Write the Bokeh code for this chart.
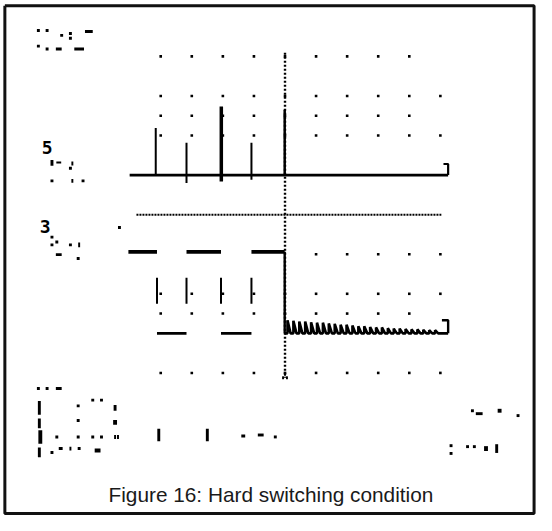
from bokeh.plotting import figure
from bokeh.models import Label, Range1d
from bokeh.embed import file_html
from bokeh.resources import INLINE
from bokeh.core.properties import value

# ---------------- data (screen divisions of the scope) ----------------
# graticule dots: rows (divisions) and the column span shown on each row
grid_rows = [4, 3, 2.5, 2, -1, -2, -2.5, -4]
grid_first_col = [1, 1, 1, 1, 6, 1, 1, 1]
grid_last_col = [9, 10, 9, 10, 10, 10, 9, 10]

# trace 1 (top): baseline level and switching spikes
t1_level = 1.0
t1_start, t1_end = 0.0, 10.25
spike_t = [0.84, 1.83, 2.95, 3.92, 4.99]
spike_top = [2.19, 1.82, 2.73, 1.82, 2.65]
spike_bottom = [1.0, 0.80, 0.84, 0.88, 1.0]
spike_width = [2, 2, 3.5, 2, 2.5]

# trace 2 (bottom): square wave with edges, then ringing at the low level
t2_high, t2_low = -0.94, -3.0
t2_start, t2_end = -0.04, 10.25
t2_edges = [0.88, 1.83, 2.94, 3.92, 4.99]
ring_t = [5.08, 5.27, 5.46, 5.65, 5.84, 6.03, 6.22, 6.41, 6.60, 6.79,
          6.98, 7.17, 7.36, 7.55, 7.74, 7.93, 8.12, 8.31, 8.50, 8.69,
          8.88, 9.07, 9.26, 9.45, 9.64, 9.83]
ring_amp = [0.33, 0.32, 0.30, 0.30, 0.28, 0.27, 0.27, 0.25, 0.24, 0.22,
            0.22, 0.20, 0.18, 0.18, 0.16, 0.15, 0.15, 0.13, 0.12, 0.12,
            0.11, 0.10, 0.10, 0.09, 0.08, 0.08]

caption = "Figure 16: Hard switching condition"

# ---------------- geometry ----------------
W, H = 536, 515                 # figure size (fits the window with the 8px margin)
REF_W, REF_H = 552.0, 531.0     # reference picture size the layout is measured in
SCALE = W / REF_W
X0_PX, XDIV_PX = 133.0, 32.0    # scope origin / division size in reference pixels
Y0_PX, YDIV_PX = 220.8, 40.8


def px_to_x(px):
    return (px - X0_PX) / XDIV_PX


def py_to_y(py):
    return (Y0_PX - py) / YDIV_PX


p = figure(width=W, height=H, output_backend="svg", toolbar_location=None,
           x_axis_type=None, y_axis_type=None, min_border=0,
           x_range=Range1d(px_to_x(0), px_to_x(REF_W)),
           y_range=Range1d(py_to_y(REF_H), py_to_y(0)))
p.grid.visible = False
p.background_fill_color = "white"
p.border_fill_color = "white"
p.outline_line_color = None

INK = "#000000"

# outer frame box
bx0, bx1 = px_to_x(4.5), px_to_x(549.5)
by0, by1 = py_to_y(5.5), py_to_y(529)
p.line([bx0, bx1, bx1, bx0, bx0], [by0, by0, by1, by1, by0],
       line_color="#111111", line_width=3)

# graticule dots
gx, gy = [], []
for r, c0, c1 in zip(grid_rows, grid_first_col, grid_last_col):
    for c in range(c0, c1 + 1):
        gx.append(c)
        gy.append(r)
p.rect(gx, gy, width=2.6, height=2.6, width_units="screen", height_units="screen",
       fill_color=INK, line_color=None)

# centre cross (dotted)
p.line([5, 5], [py_to_y(54), py_to_y(389)], line_color=INK, line_width=2.4,
       line_dash="2 2")
p.line([px_to_x(140), px_to_x(454)], [0, 0], line_color=INK, line_width=2,
       line_dash="2 1")

# ---------------- trace 1 ----------------
p.line([t1_start, t1_end], [t1_level, t1_level], line_color=INK, line_width=2.6)
p.segment(x0=spike_t, y0=spike_bottom, x1=spike_t, y1=spike_top,
          line_color=INK, line_width=spike_width)
# right end level marker
p.line([t1_end, t1_end, t1_end - 0.15], [t1_level, t1_level + 0.28, t1_level + 0.28],
       line_color=INK, line_width=2.2)

# ---------------- trace 2 ----------------
levels_x0 = [t2_start] + t2_edges[:-1]
levels_x1 = t2_edges
levels_y = [t2_high if i % 2 == 0 else t2_low for i in range(len(t2_edges))]
p.segment(x0=levels_x0, y0=levels_y, x1=levels_x1, y1=levels_y,
          line_color=INK, line_width=[3.6 if y == t2_high else 2.8 for y in levels_y])
# intermediate edges (faint on the scope: only partly drawn)
p.segment(x0=t2_edges[:-1], y0=[t2_high] * 4, x1=t2_edges[:-1], y1=[t2_low] * 4,
          line_color=INK, line_width=2, line_dash="0 26 26 100")
# final turn-off edge
p.line([t2_edges[-1], t2_edges[-1]], [t2_high, t2_low], line_color=INK, line_width=2.4)
# ringing after turn-off
rx, ry = [t2_edges[-1]], [t2_low]
for t, a in zip(ring_t, ring_amp):
    rx += [t, t, t + 0.1]
    ry += [t2_low, t2_low + a, t2_low]
rx.append(t2_end)
ry.append(t2_low)
p.line(rx, ry, line_color=INK, line_width=2.6)
p.line([t2_end, t2_end, t2_end - 0.2], [t2_low, t2_low + 0.33, t2_low + 0.33],
       line_color=INK, line_width=2.4)

# ---------------- degraded readout fragments (unreadable) ----------------
frag = [
    (39, 31, 3, 3), (48, 31, 3, 3), (63, 36, 3, 3), (72, 34, 3, 3), (72, 39, 3, 3),
    (91, 32, 8, 3), (39, 47, 3, 3), (48, 50, 3, 3), (60, 50, 6, 3), (81, 50, 10, 3),
    (53, 166, 3, 3), (53, 169, 3, 3), (60, 167, 5, 2), (74, 168, 2, 4), (72, 173, 3, 3),
    (53, 186, 3, 3), (74, 186, 2, 4), (85, 186, 3, 3),
    (53, 244, 3, 3), (58, 249, 3, 3), (53, 252, 3, 3), (72, 252, 3, 3), (81, 252, 2, 5),
    (60, 262, 6, 3), (80, 266, 3, 3), (122.5, 234, 3, 3),
    (39, 400, 3, 3), (48, 400, 3, 3), (60, 400, 6, 3),
    (40, 420, 3, 14), (40, 436, 3, 10), (41, 450, 4, 14), (40, 466, 3, 10),
    (80, 418, 3, 3), (95, 412, 3, 3), (104, 412, 3, 3), (118, 420, 3, 6), (80, 433, 3, 3),
    (118, 435, 4, 5), (58, 450, 3, 3), (80, 450, 3, 3), (95, 450, 3, 3), (104, 450, 3, 3),
    (118, 450, 2, 4), (121, 450, 2, 4), (53, 466, 3, 3), (62, 462, 4, 3), (72, 462, 2, 4),
    (81, 462, 3, 3), (100, 464, 6, 4),
    (163, 448, 3, 13), (213, 448, 3, 13), (250, 449, 4, 3), (268, 448, 6, 3), (283, 450, 3, 3),
    (486, 423, 3, 3), (493, 426, 7, 3), (514, 423, 4, 4), (533, 428, 3, 3),
    (464, 459, 3, 3), (464, 467, 3, 3), (481, 460, 3, 3), (488, 460, 3, 3),
    (500, 462, 4, 5), (511, 462, 3, 9),
    (291, 389, 2, 3), (295, 389, 2, 3), (293, 386, 2, 2),
]
p.rect([px_to_x(f[0]) for f in frag], [py_to_y(f[1]) for f in frag],
       width=[f[2] * SCALE for f in frag], height=[f[3] * SCALE for f in frag],
       width_units="screen", height_units="screen", fill_color=INK, line_color=None)

# channel labels on the left
p.text(x=[px_to_x(48), px_to_x(46)], y=[py_to_y(152), py_to_y(233)], text=["5", "3"],
       text_font=value("DejaVu Sans Mono"), text_font_style="bold",
       text_font_size="18px", text_align="center", text_baseline="middle",
       text_color=INK)

# caption
p.add_layout(Label(x=px_to_x(278.5), y=py_to_y(509.5), text=caption,
                   text_align="center", text_baseline="middle",
                   text_font="Liberation Sans", text_font_size="20.8px",
                   text_color="#1a1a1a"))

open("out.html", "w").write(file_html(p, INLINE))
